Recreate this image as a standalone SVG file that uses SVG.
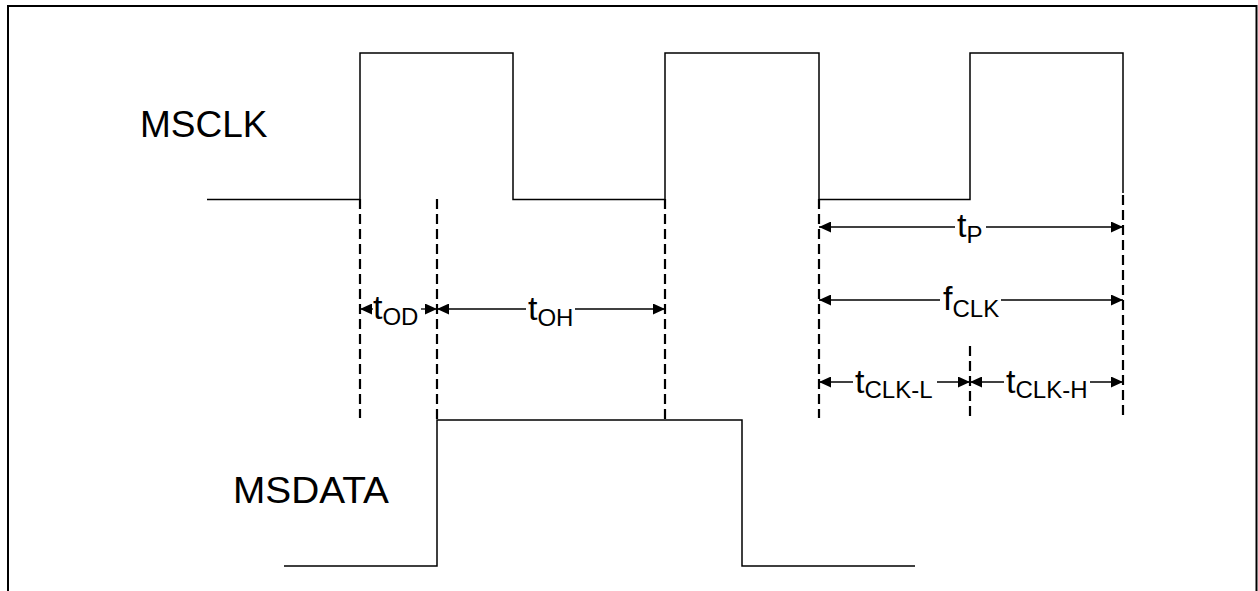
<svg xmlns="http://www.w3.org/2000/svg" width="1258" height="591" viewBox="0 0 1258 591">
<style>
.frame{fill:none;stroke:#000;stroke-width:2}
.wave{fill:none;stroke:#000;stroke-width:1.5}
.dash{fill:none;stroke:#000;stroke-width:2.2;stroke-dasharray:10 5}
.dim{fill:none;stroke:#000;stroke-width:1.3;marker-end:url(#arr)}
.lbl{font-family:"Liberation Sans",Arial,sans-serif;font-size:37px;fill:#000}
.sym{font-family:"Liberation Sans",Arial,sans-serif;font-size:34px;fill:#000}
.sub{font-size:24px}
</style>
<defs>
<marker id="arr" markerUnits="userSpaceOnUse" markerWidth="12" markerHeight="11" refX="12" refY="5.5" orient="auto">
<path d="M0,0 L12,5.5 L0,11 z" fill="#000"/>
</marker>
</defs>
<rect width="1258" height="591" fill="#fff"/>
<path class="frame" d="M8,600 V6 H1256.5 V600"/>
<g id="msclk">
<text class="lbl" x="140" y="137">MSCLK</text>
<path class="wave" d="M207,199.5 H360 V53 H513 V199.5 H665 V53 H819 V199.5 H970 V53 H1123 V193"/>
</g>
<g id="msdata">
<text class="lbl" x="233" y="503" textLength="156" lengthAdjust="spacingAndGlyphs">MSDATA</text>
<path class="wave" d="M284,566 H437 V420 H742 V566 H915"/>
</g>
<g id="guides">
<line class="dash" x1="360" y1="199" x2="360" y2="418"/>
<line class="dash" x1="437" y1="199" x2="437" y2="420"/>
<line class="dash" x1="665" y1="199" x2="665" y2="420"/>
<line class="dash" x1="819" y1="199" x2="819" y2="418"/>
<line class="dash" x1="970" y1="346" x2="970" y2="418"/>
<line class="dash" x1="1123" y1="195" x2="1123" y2="418"/>
</g>
<g id="connectors">
<line class="dim" x1="373" y1="309" x2="360" y2="309"/>
<line class="dim" x1="421" y1="309" x2="437" y2="309"/>
<line class="dim" x1="526" y1="309" x2="437" y2="309"/>
<line class="dim" x1="575" y1="309" x2="665" y2="309"/>
<line class="dim" x1="955" y1="227" x2="819" y2="227"/>
<line class="dim" x1="986" y1="227" x2="1123" y2="227"/>
<line class="dim" x1="940" y1="300" x2="819" y2="300"/>
<line class="dim" x1="1001" y1="300" x2="1123" y2="300"/>
<line class="dim" x1="853" y1="382" x2="819" y2="382"/>
<line class="dim" x1="937" y1="382" x2="970" y2="382"/>
<line class="dim" x1="1004" y1="382" x2="970" y2="382"/>
<line class="dim" x1="1090" y1="382" x2="1123" y2="382"/>
</g>
<g id="t-od"><text class="sym" x="373" y="319">t<tspan class="sub" dy="6">OD</tspan></text></g>
<g id="t-oh"><text class="sym" x="528" y="320">t<tspan class="sub" dy="6">OH</tspan></text></g>
<g id="t-p"><text class="sym" x="957" y="237">t<tspan class="sub" dy="6">P</tspan></text></g>
<g id="f-clk"><text class="sym" x="943" y="310">f<tspan class="sub" dy="7">CLK</tspan></text></g>
<g id="t-clk-l"><text class="sym" x="855" y="393">t<tspan class="sub" dy="5">CLK-L</tspan></text></g>
<g id="t-clk-h"><text class="sym" x="1006" y="393">t<tspan class="sub" dy="5">CLK-H</tspan></text></g>
</svg>
